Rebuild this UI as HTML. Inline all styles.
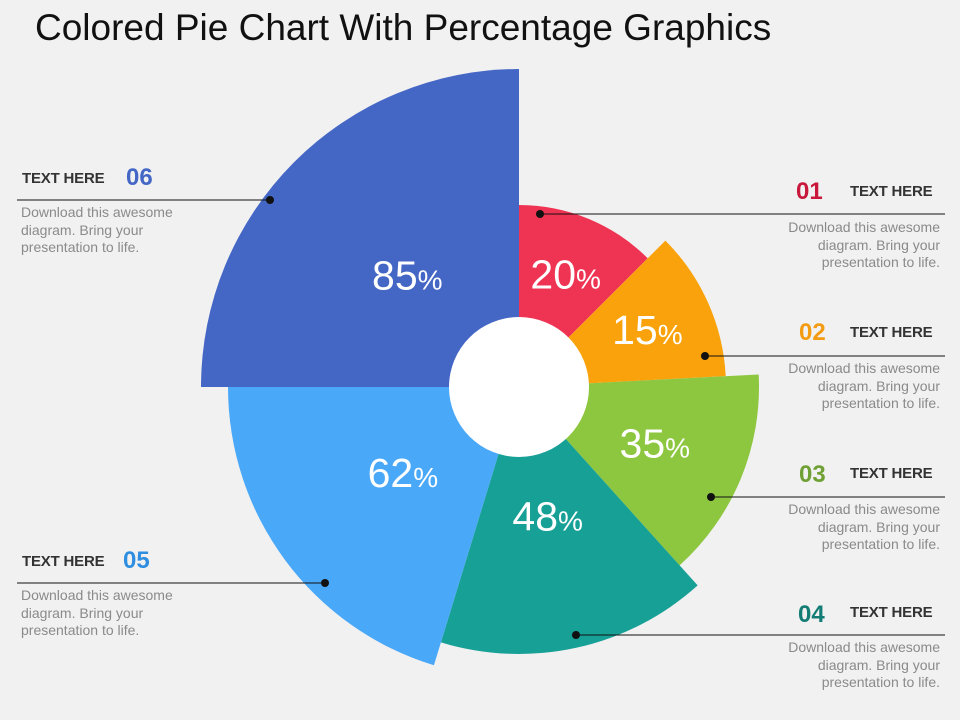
<!DOCTYPE html>
<html><head><meta charset="utf-8"><style>
body{margin:0;width:960px;height:720px;background:#f1f1f1;font-family:"Liberation Sans",sans-serif;position:relative;overflow:hidden}
.t{position:absolute;font-size:15px;font-weight:bold;color:#333;letter-spacing:-0.2px}
.n{position:absolute;font-size:24px;font-weight:bold}
.d{position:absolute;font-size:14px;color:#8a8a8a;line-height:17.5px;width:168px}
</style></head><body>
<div style="position:absolute;left:35px;top:7px;font-size:37px;color:#111">Colored Pie Chart With Percentage Graphics</div>
<svg id="c" width="960" height="720" style="position:absolute;left:0;top:0"></svg>

<div class="n" style="left:796px;top:178px;color:#c8193c">01</div>
<div class="t" style="left:850px;top:183px">TEXT HERE</div>
<div class="d" style="left:772px;top:219px;text-align:right">Download this awesome diagram. Bring your presentation to life.</div>

<div class="n" style="left:799px;top:319px;color:#f39c12">02</div>
<div class="t" style="left:850px;top:324px">TEXT HERE</div>
<div class="d" style="left:772px;top:360px;text-align:right">Download this awesome diagram. Bring your presentation to life.</div>

<div class="n" style="left:799px;top:461px;color:#6fa033">03</div>
<div class="t" style="left:850px;top:465px">TEXT HERE</div>
<div class="d" style="left:772px;top:501px;text-align:right">Download this awesome diagram. Bring your presentation to life.</div>

<div class="n" style="left:798px;top:601px;color:#137d75">04</div>
<div class="t" style="left:850px;top:604px">TEXT HERE</div>
<div class="d" style="left:772px;top:639px;text-align:right">Download this awesome diagram. Bring your presentation to life.</div>

<div class="t" style="left:22px;top:170px">TEXT HERE</div>
<div class="n" style="left:126px;top:164px;color:#4466c5">06</div>
<div class="d" style="left:21px;top:204px">Download this awesome diagram. Bring your presentation to life.</div>

<div class="t" style="left:22px;top:553px">TEXT HERE</div>
<div class="n" style="left:123px;top:547px;color:#2f8ee0">05</div>
<div class="d" style="left:21px;top:587px">Download this awesome diagram. Bring your presentation to life.</div>

<script>
const values=[20,15,35,48,62,85];
const sweeps=[45,42,51,59,73,90];
const radii=[182,207,240,267,291,318];
const colors=['#ef3453','#f9a20b','#8dc63f','#17a096','#4aa8f8','#4466c5'];
const cx=519,cy=387,inner=70;
const svg=document.getElementById('c');
const NS='http://www.w3.org/2000/svg';
function pt(a,r){const t=a*Math.PI/180;return [cx+r*Math.sin(t),cy-r*Math.cos(t)];}
let a0=0;
values.forEach((v,i)=>{
  const a1=a0+sweeps[i],r=radii[i];
  const p0=pt(a0,r),p1=pt(a1,r);
  const p=document.createElementNS(NS,'path');
  p.setAttribute('d',`M${cx},${cy}L${p0[0]},${p0[1]}A${r},${r} 0 0 1 ${p1[0]},${p1[1]}Z`);
  p.setAttribute('fill',colors[i]);
  
  
  svg.appendChild(p);
  const off=i>=3?-36:(i===2?-8:(i===0?-4:2));
  const m=(a0+a1)/2,lp=pt(m,(inner+r)/2+off);
  const tx=document.createElementNS(NS,'text');
  tx.setAttribute('x',lp[0]);tx.setAttribute('y',lp[1]+14);
  tx.setAttribute('text-anchor','middle');tx.setAttribute('fill','#fff');
  tx.setAttribute('font-size','41');tx.setAttribute('font-family','Liberation Sans, sans-serif');
  
  
  tx.innerHTML=v+'<tspan font-size="28">%</tspan>';
  svg.appendChild(tx);
  a0=a1;
});
const c=document.createElementNS(NS,'circle');
c.setAttribute('cx',cx);c.setAttribute('cy',cy);c.setAttribute('r',inner);c.setAttribute('fill','#fff');


svg.appendChild(c);
const leaders=[[540,214,945,214],[705,356,945,356],[711,497,945,497],[576,635,945,635],[270,200,17,200],[325,583,17,583]];
leaders.forEach((l,i)=>{
  const ln=document.createElementNS(NS,'line');
  ln.setAttribute('x1',l[0]);ln.setAttribute('y1',l[1]);ln.setAttribute('x2',l[2]);ln.setAttribute('y2',l[3]);
  ln.setAttribute('stroke','#111');ln.setAttribute('stroke-width','1');
  
  
  svg.appendChild(ln);
  const d=document.createElementNS(NS,'circle');
  d.setAttribute('cx',l[0]);d.setAttribute('cy',l[1]);d.setAttribute('r',4);d.setAttribute('fill','#111');
  
  
  svg.appendChild(d);
});
</script>
</body></html>
